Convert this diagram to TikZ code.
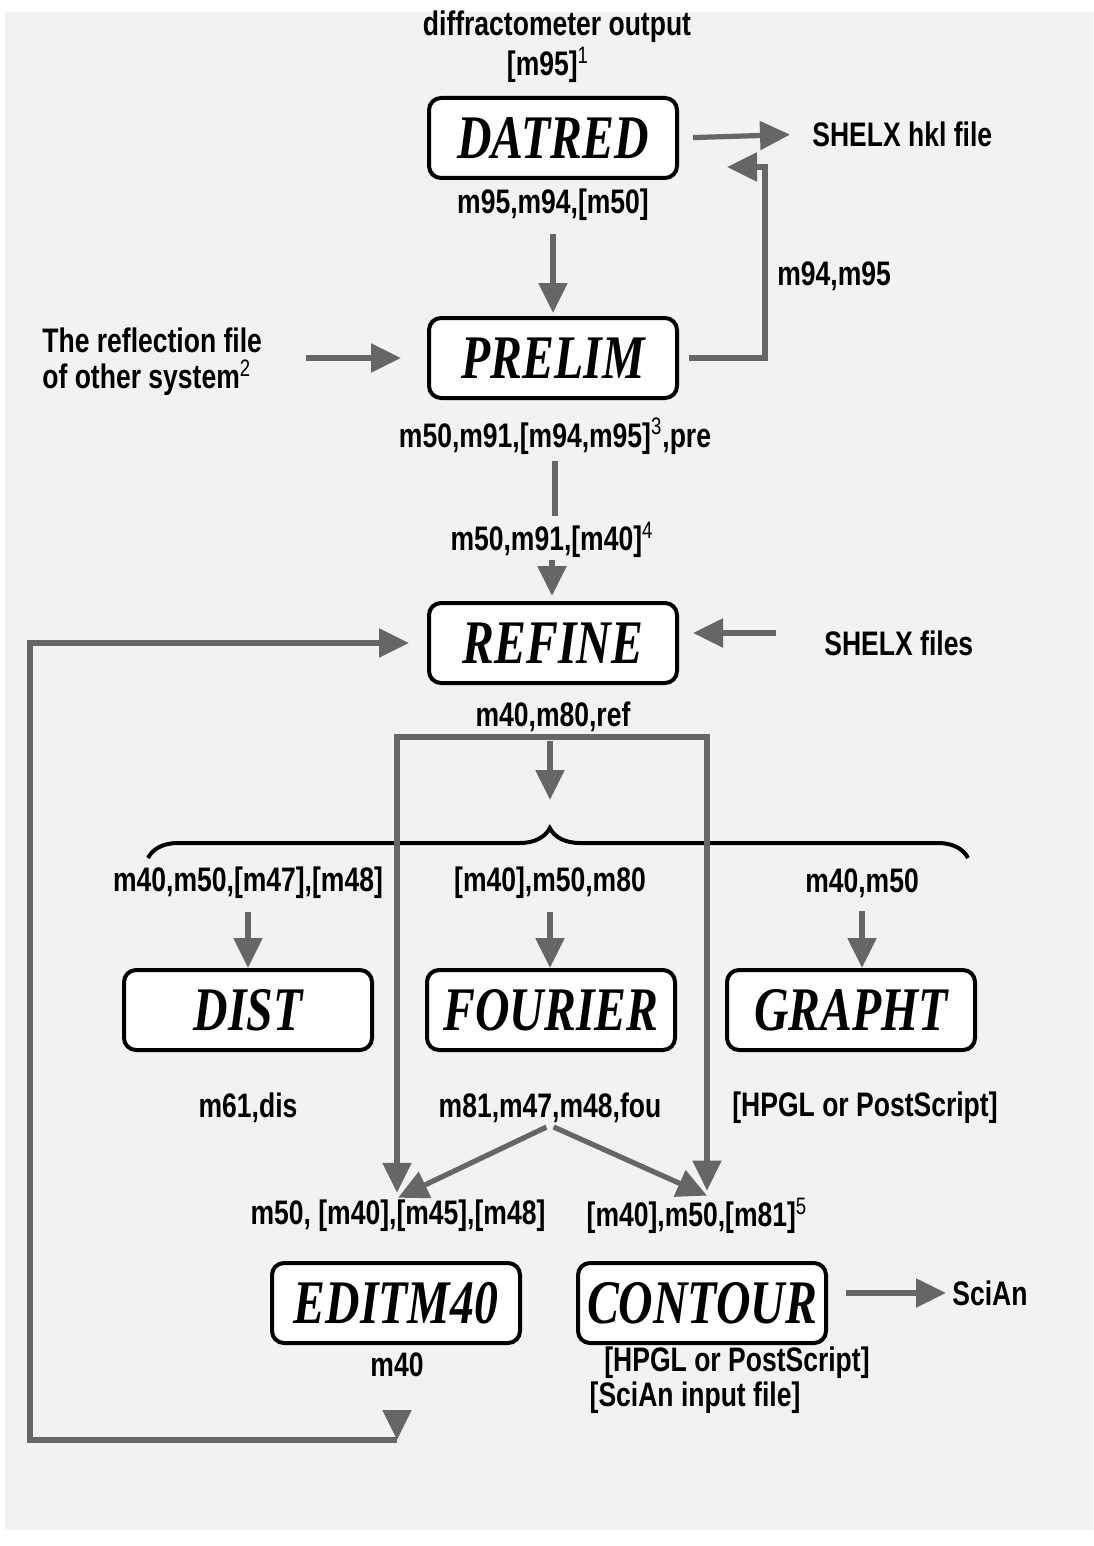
\documentclass[tikz,border=0pt]{standalone}
\usepackage{fontspec}
\setmainfont{Liberation Sans}[FakeStretch=0.78]
\newfontfamily\progfont{Liberation Serif}[FakeStretch=0.77]
\usepackage{xcolor}
\definecolor{flowgray}{RGB}{102,102,102}
\definecolor{pagegray}{RGB}{242,242,242}
\usetikzlibrary{arrows.meta,positioning,calc,decorations.pathreplacing}

\begin{document}
\begin{tikzpicture}[x=0.5pt, y=-0.5pt,
    progbox/.style={rectangle, rounded corners=6pt, draw=black, line width=2pt,
                    fill=white, minimum width=124pt, minimum height=40pt, inner sep=0pt,
                    font=\progfont\fontsize{31}{31}\selectfont\bfseries\itshape},
    lbl/.style={font=\fontsize{17}{18}\selectfont\bfseries, inner sep=1pt},
    link/.style={draw=flowgray, line width=2.6pt},
    flow/.style={link, -{Triangle[width=14pt, length=15pt]}},
    flowboth/.style={link, {Triangle[width=14pt, length=15pt]}-{Triangle[width=14pt, length=15pt]}}
  ]
    % Page
    \useasboundingbox (0,0) rectangle (1093,1546);
    \fill[pagegray] (5,12) rectangle (1093,1530);

    % DATRED
    \node[lbl] (diffout) at (557,27) {diffractometer output};
    \node[lbl] (m95in)   at (548,65) {[m95]\textsuperscript{\mdseries 1}};
    \node[progbox] (datred) at (553,138) {DATRED};
    \node[lbl] (datredout) at (553,205) {m95,m94,[m50]};
    \node[lbl, anchor=west] (hklfile) at (810,134) {SHELX hkl file};
    \draw[flow, shorten <=7pt, shorten >=10pt] (datred.east) -- (hklfile.west);

    % PRELIM
    \node[progbox] (prelim) at (553,358) {PRELIM};
    \node[lbl, align=left, anchor=west] (reffile) at (40,362)
        {The reflection file\\of other system\textsuperscript{\mdseries 2}};
    \draw[flow, shorten <=5.5pt, shorten >=1.5pt] (datredout.south) -- (datredout.south |- prelim.north);
    \draw[flow, shorten <=21pt, shorten >=13pt] (reffile.east |- prelim.west) -- (prelim.west);
    \coordinate (ret) at (765,167);
    \draw[flow, shorten <=5pt, shorten >=24pt] (prelim.east) -| (ret) -- (ret -| datred.east);
    \node[lbl, anchor=west] (retlbl) at (775,276) {m94,m95};
    \node[lbl] (prelimout) at (555,436) {m50,m91,[m94,m95]\textsuperscript{\mdseries 3},pre};
    \node[lbl] (refinein)  at (552,540) {m50,m91,[m40]\textsuperscript{\mdseries 4}};
    \draw[link, shorten <=2pt, shorten >=2pt] (prelimout.south) -- (prelimout.south |- refinein.north);

    % REFINE
    \node[progbox] (refine) at (553,643) {REFINE};
    \draw[flow, shorten >=2.5pt] (refinein.south) -- (refinein.south |- refine.north);
    \node[lbl, anchor=west] (shelxfiles) at (822,643) {SHELX files};
    \draw[flow, shorten <=23pt, shorten >=7pt] ([yshift=5pt]shelxfiles.west) -- ([yshift=5pt]refine.east);
    \node[lbl] (refineout) at (553,717) {m40,m80,ref};

    % Brace over the three programs
    \coordinate (bracel) at (148,858);
    \coordinate (bracer) at (968,858);
    \coordinate (bracetip) at (550,828);
    \draw[decorate, decoration={brace, amplitude=15pt, aspect=0.49}, line width=2pt] (bracel) -- (bracer);
    \draw[flow, shorten <=3.5pt, shorten >=14pt] (refineout.south -| bracetip) -- (bracetip);

    % DIST, FOURIER, GRAPHT
    \node[lbl] (distin)  at (248,883) {m40,m50,[m47],[m48]};
    \node[lbl] (fourin)  at (550,883) {[m40],m50,m80};
    \node[lbl] (graphin) at (862,883) {m40,m50};
    \node[progbox] (dist)    at (248,1010) {DIST};
    \node[progbox] (fourier) at (551,1010) {FOURIER};
    \node[progbox] (grapht)  at (851,1010) {GRAPHT};
    \draw[flow, shorten <=5.5pt] (distin.south) -- (distin.south |- dist.north);
    \draw[flow, shorten <=5.5pt] (fourin.south) -- (fourin.south |- fourier.north);
    \draw[flow, shorten <=5.5pt] (graphin.south) -- (graphin.south |- grapht.north);
    \node[lbl] (distout)  at (248,1108) {m61,dis};
    \node[lbl] (fourout)  at (550,1108) {m81,m47,m48,fou};
    \node[lbl] (graphout) at (865,1108) {[HPGL or PostScript]};

    % EDITM40, CONTOUR
    \node[lbl] (editin) at (398,1216) {m50, [m40],[m45],[m48]};
    \node[lbl] (contin) at (697,1216) {[m40],m50,[m81]\textsuperscript{\mdseries 5}};
    \coordinate (splitl) at (397,737);
    \coordinate (splitr) at (707,737);
    \draw[flowboth, shorten <=2.5pt, shorten >=2.5pt]
        (splitl |- editin.north) -- (splitl) -- (splitr) -- (splitr |- contin.north);
    \draw[flow, shorten <=2pt] (fourout.south) -- (editin.north);
    \draw[flow, shorten <=2pt] (fourout.south) -- ([xshift=5pt]contin.north);
    \node[progbox] (editm) at (396,1303) {EDITM40};
    \node[progbox] (contour) at (702,1303) {CONTOUR};
    \node[lbl, anchor=west] (scian) at (950,1293) {SciAn};
    \draw[flow, shorten <=9pt, shorten >=2pt] ([yshift=5pt]contour.east) -- (scian.west);
    \node[lbl] (m40out) at (397,1365) {m40};
    \node[lbl] (contout) at (737,1363) {[HPGL or PostScript]};
    \node[lbl] (sciout) at (695,1398) {[SciAn input file]};

    % Loop back to REFINE
    \coordinate (loopend) at (397,1440);
    \coordinate (loopcorner) at (30,1440);
    \draw[flow, shorten <=17pt] (m40out.south) -- (loopend);
    \draw[flow, shorten >=9pt] (loopend) -- (loopcorner) |- (refine.west);
\end{tikzpicture}
\end{document}
